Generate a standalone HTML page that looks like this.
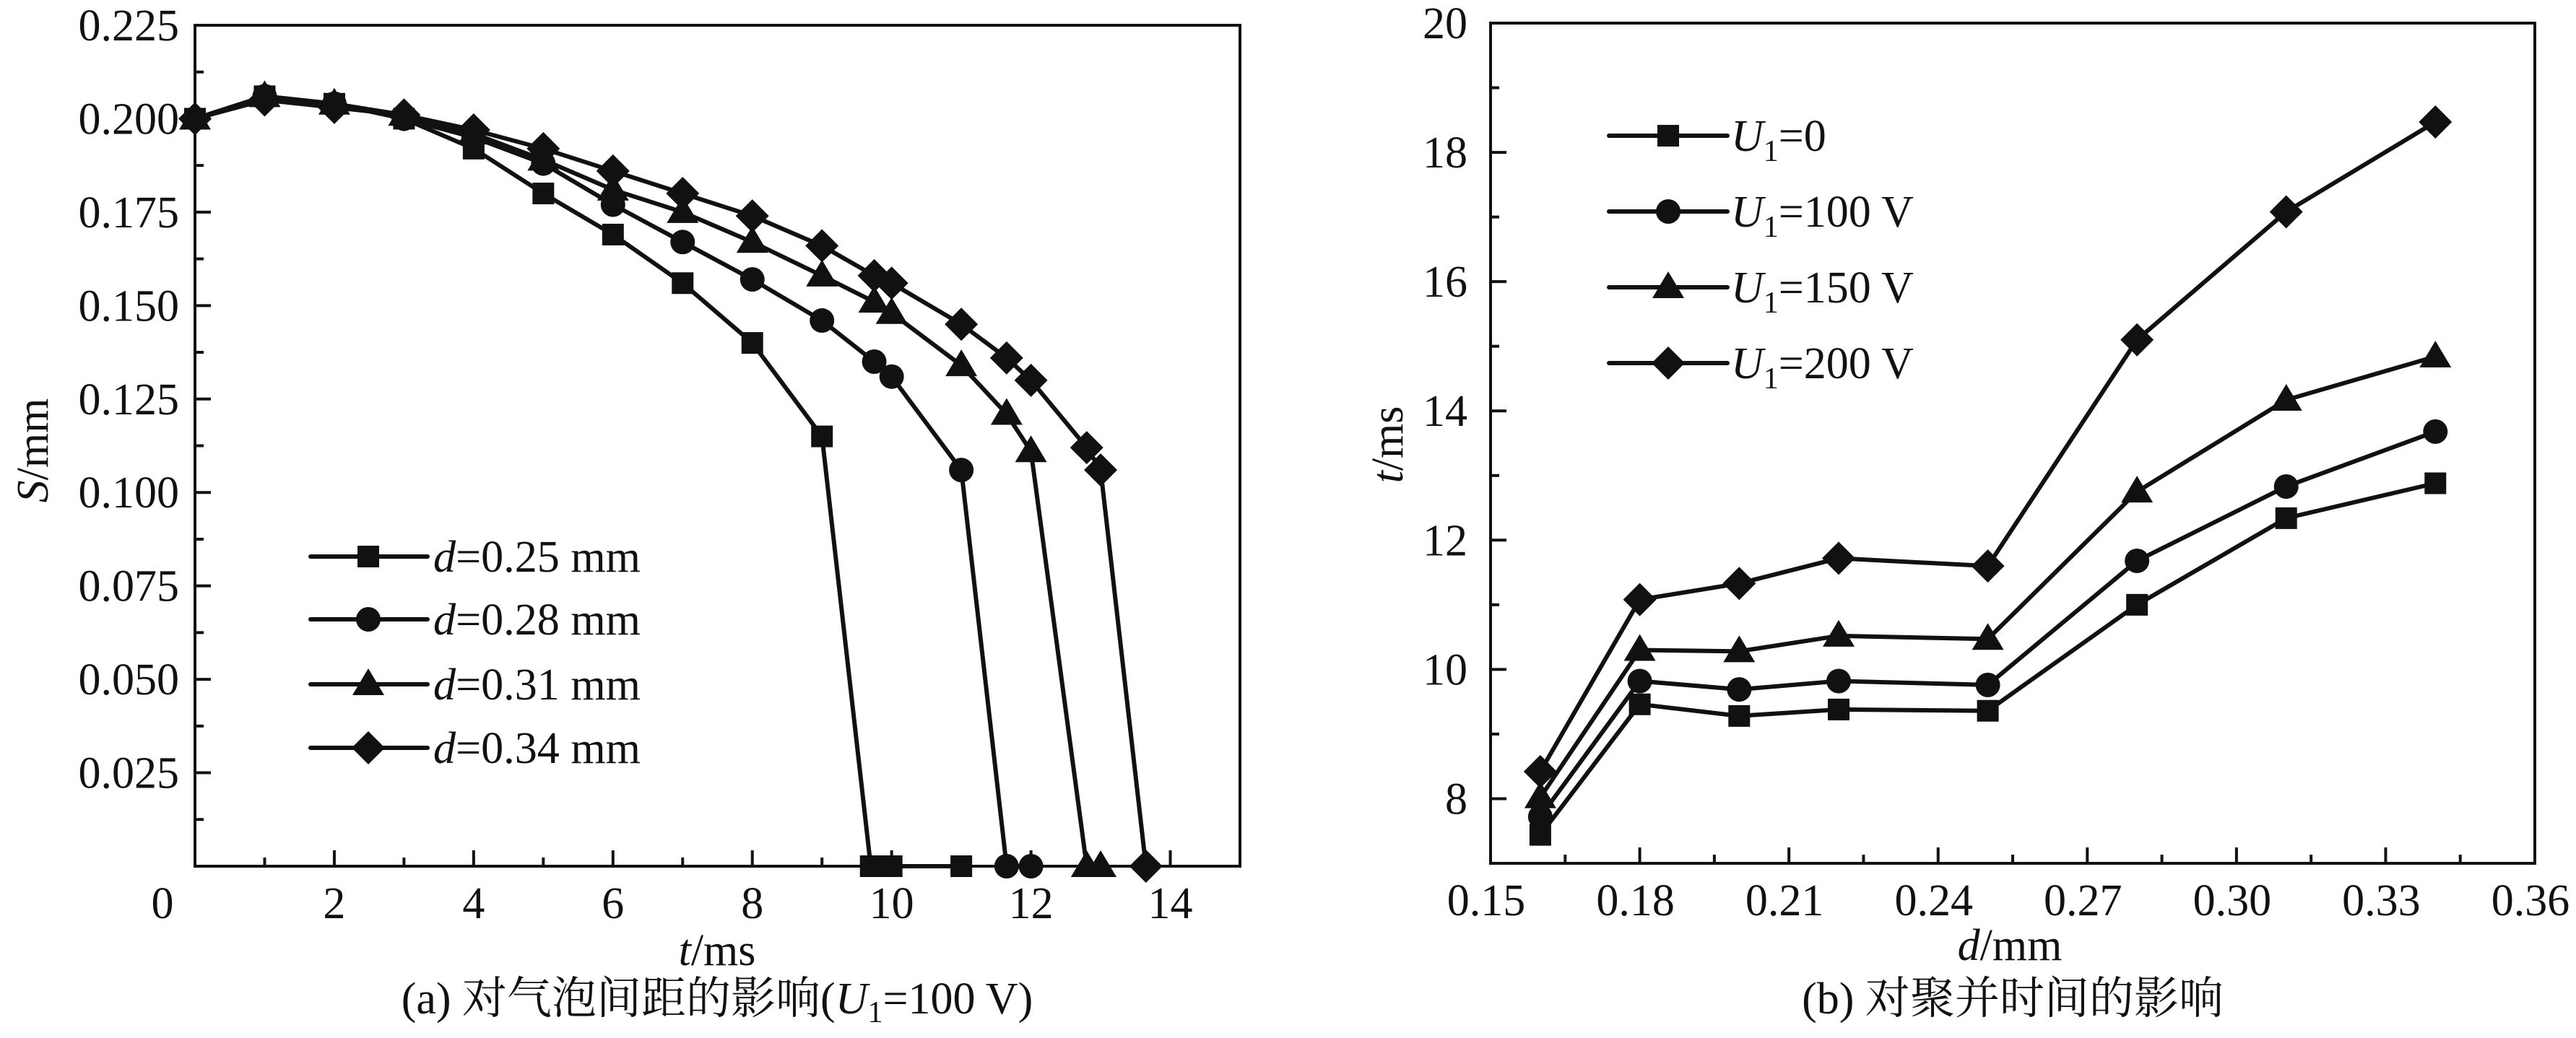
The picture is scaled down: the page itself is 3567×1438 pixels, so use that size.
<!DOCTYPE html>
<html><head><meta charset="utf-8"><style>
html,body{margin:0;padding:0;background:#fff;}
svg{display:block;}
text{font-family:"Liberation Serif","Noto Serif CJK SC",serif;fill:#111;}
</style></head><body>
<svg id="fig" width="3567" height="1438" viewBox="0 0 3567 1438" xmlns="http://www.w3.org/2000/svg"></svg>
<script>
// ---- Chart (a) data ----
const aT1 = [0,1,2,3,4,5,6,7,8,9,9.7,10,11];
const aS1 = [0.200,0.206,0.204,0.200,0.192,0.180,0.169,0.156,0.140,0.115,0,0,0];
const aT2 = [0,1,2,3,4,5,6,7,8,9,9.75,10,11,11.65,12];
const aS2 = [0.200,0.206,0.204,0.200,0.195,0.188,0.177,0.167,0.157,0.146,0.135,0.131,0.106,0,0];
const aT3 = [0,1,2,3,4,5,6,7,8,9,9.75,10,11,11.65,12,12.8,13];
const aS3 = [0.200,0.206,0.204,0.201,0.196,0.189,0.181,0.175,0.167,0.158,0.151,0.148,0.134,0.121,0.111,0,0];
const aT4 = [0,1,2,3,4,5,6,7,8,9,9.75,10,11,11.65,12,12.8,13,13.65];
const aS4 = [0.200,0.205,0.203,0.201,0.197,0.192,0.186,0.180,0.174,0.166,0.158,0.156,0.145,0.136,0.130,0.112,0.106,0];
const aLegend = ["0.25 mm","0.28 mm","0.31 mm","0.34 mm"];
const aXTicks = [0,2,4,6,8,10,12,14];
const aYTicks = [0.025,0.050,0.075,0.100,0.125,0.150,0.175,0.200,0.225];
const aYLabels = ["0.025","0.050","0.075","0.100","0.125","0.150","0.175","0.200","0.225"];
// ---- Chart (b) data ----
const bD = [0.16,0.18,0.20,0.22,0.25,0.28,0.31,0.34];
const bU0 = [7.44,9.46,9.28,9.38,9.36,11.0,12.34,12.88];
const bU100 = [7.72,9.82,9.69,9.82,9.76,11.68,12.83,13.68];
const bU150 = [8.02,10.30,10.28,10.52,10.47,12.75,14.17,14.84];
const bU200 = [8.42,11.08,11.33,11.72,11.60,15.10,17.08,18.47];
const bLegend = ["0","100 V","150 V","200 V"];
const bXTicks = [0.15,0.18,0.21,0.24,0.27,0.30,0.33,0.36];
const bXLabels = ["0.15","0.18","0.21","0.24","0.27","0.30","0.33","0.36"];
const bYTicks = [8,10,12,14,16,18,20];

const NS="http://www.w3.org/2000/svg";
const svg=document.getElementById('fig');
function mk(tag,attrs,parent){const e=document.createElementNS(NS,tag);for(const k in attrs)e.setAttribute(k,attrs[k]);(parent||svg).appendChild(e);return e;}

function marker(g,type,x,y){
  let e;
  if(type===0){e=mk('rect',{x:x-15,y:y-15,width:30,height:30,fill:'#111'},g);}
  else if(type===1){e=mk('circle',{cx:x,cy:y,r:17,fill:'#111'},g);}
  else if(type===2){e=mk('polygon',{points:`${x},${y-22} ${x+22},${y+15} ${x-22},${y+15}`,fill:'#111'},g);}
  else {e=mk('polygon',{points:`${x},${y-23} ${x+23},${y} ${x},${y+23} ${x-23},${y}`,fill:'#111'},g);}
  
  
  return e;
}

// ===== Chart A =====
const AL=270,AR=1717,AT=35,AB=1200;
const ax=v=>AL+(v-0)/(15-0)*(AR-AL);
const ay=v=>AB-(v-0)/(0.225-0)*(AB-AT);
const gA=mk('g',{});


const frA=mk('rect',{x:AL,y:AT,width:AR-AL,height:AB-AT,fill:'none',stroke:'#111','stroke-width':4},gA);


for(let v=1;v<=14;v++){const x=ax(v);const len=(v%2===0)?22:12;const t=mk('line',{x1:x,y1:AB,x2:x,y2:AB-len,stroke:'#111','stroke-width':4},gA);}
for(let i=1;i<18;i++){const v=i*0.0125;const y=ay(v);const len=(i%2===0)?22:12;const t=mk('line',{x1:AL,y1:y,x2:AL+len,y2:y,stroke:'#111','stroke-width':4},gA);}
aXTicks.forEach(v=>{const t=mk('text',{x:(v===0?225:ax(v)),y:1272,'font-size':62,'text-anchor':'middle'},gA);t.textContent=String(v);});
aYTicks.forEach((v,i)=>{const t=mk('text',{x:248,y:ay(v)+21,'font-size':62,'text-anchor':'end'},gA);t.textContent=aYLabels[i];});
const axA=mk('text',{x:993,y:1337,'font-size':62,'text-anchor':'middle'},gA);
axA.innerHTML='<tspan font-style="italic">t</tspan>/ms';


const ayA=mk('text',{x:0,y:0,'font-size':62,'text-anchor':'middle',transform:'translate(66,624) rotate(-90)'},gA);
ayA.innerHTML='<tspan font-style="italic">S</tspan>/mm';


const capA=mk('text',{x:993,y:1404,'font-size':62,'text-anchor':'middle'},gA);
capA.innerHTML='(a) 对气泡间距的影响(<tspan font-style="italic">U</tspan><tspan font-size="42" dy="12">1</tspan><tspan dy="-12">=100 V)</tspan>';



const aSeries=[[aT1,aS1],[aT2,aS2],[aT3,aS3],[aT4,aS4]];
aSeries.forEach((s,k)=>{
  const g=mk('g',{},gA);
  
  
  const pts=s[0].map((t,i)=>ax(t)+','+ay(s[1][i])).join(' ');
  const pl=mk('polyline',{points:pts,fill:'none',stroke:'#111','stroke-width':6,'stroke-linejoin':'round'},g);
  
  
  s[0].forEach((t,i)=>marker(g,k,ax(t),ay(s[1][i])));
});
const legRowsA=[771,858,948,1036];
aLegend.forEach((lab,k)=>{
  const g=mk('g',{},gA);
  
  
  const y=legRowsA[k];
  mk('line',{x1:430,y1:y,x2:592,y2:y,stroke:'#111','stroke-width':6,'stroke-linecap':'round'},g);
  marker(g,k,510,y);
  const t=mk('text',{x:600,y:y+21,'font-size':62,textLength:287,lengthAdjust:'spacingAndGlyphs'},g);
  t.innerHTML='<tspan font-style="italic">d</tspan>='+lab;
});

// ===== Chart B =====
const BL=2064,BR=3510,BT=32,BB=1196;
const bx=v=>BL+(v-0.15)/(0.36-0.15)*(BR-BL);
const by=v=>BB-(v-7)/(20-7)*(BB-BT);
const gB=mk('g',{});


const frB=mk('rect',{x:BL,y:BT,width:BR-BL,height:BB-BT,fill:'none',stroke:'#111','stroke-width':4},gB);


for(let i=1;i<14;i++){const v=0.15+i*0.015;const x=bx(v);const len=(i%2===0)?22:12;const t=mk('line',{x1:x,y1:BB,x2:x,y2:BB-len,stroke:'#111','stroke-width':4},gB);}
for(let v=8;v<20;v++){const y=by(v);const len=(v%2===0)?22:12;const t=mk('line',{x1:BL,y1:y,x2:BL+len,y2:y,stroke:'#111','stroke-width':4},gB);}
bXTicks.forEach((v,i)=>{const t=mk('text',{x:bx(v)-6,y:1268,'font-size':62,'text-anchor':'middle'},gB);t.textContent=bXLabels[i];});
bYTicks.forEach(v=>{const t=mk('text',{x:2032,y:by(v)+21,'font-size':62,'text-anchor':'end'},gB);t.textContent=String(v);});
const axB=mk('text',{x:2783,y:1330,'font-size':62,'text-anchor':'middle'},gB);
axB.innerHTML='<tspan font-style="italic">d</tspan>/mm';


const ayB=mk('text',{x:0,y:0,'font-size':62,'text-anchor':'middle',transform:'translate(1942,616) rotate(-90)'},gB);
ayB.innerHTML='<tspan font-style="italic">t</tspan>/ms';


const capB=mk('text',{x:2787,y:1404,'font-size':62,'text-anchor':'middle'},gB);
capB.textContent='(b) 对聚并时间的影响';



const bSeries=[bU0,bU100,bU150,bU200];
bSeries.forEach((s,k)=>{
  const g=mk('g',{},gB);
  
  
  const pts=bD.map((d,i)=>bx(d)+','+by(s[i])).join(' ');
  const pl=mk('polyline',{points:pts,fill:'none',stroke:'#111','stroke-width':6,'stroke-linejoin':'round'},g);
  
  
  bD.forEach((d,i)=>marker(g,k,bx(d),by(s[i])));
});
const legRowsB=[188,293,398,503];
bLegend.forEach((lab,k)=>{
  const g=mk('g',{},gB);
  
  
  const y=legRowsB[k];
  mk('line',{x1:2228,y1:y,x2:2392,y2:y,stroke:'#111','stroke-width':6,'stroke-linecap':'round'},g);
  marker(g,k,2310,y);
  const t=mk('text',{x:2397,y:y+21,'font-size':62},g);
  t.innerHTML='<tspan font-style="italic">U</tspan><tspan font-size="42" dy="14">1</tspan><tspan dy="-14">='+lab+'</tspan>';
});
</script>
</body></html>
